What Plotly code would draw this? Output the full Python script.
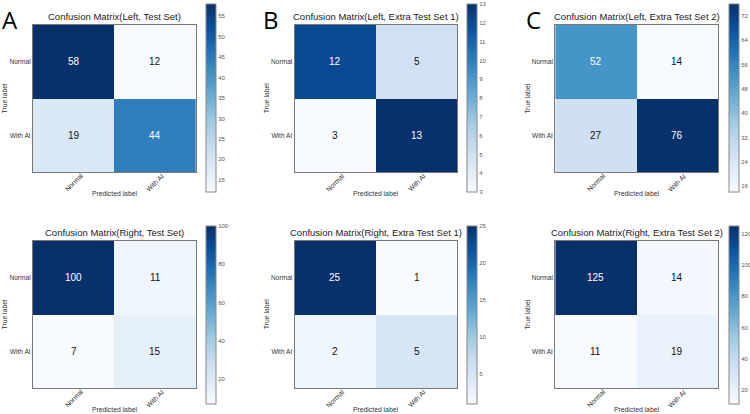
import plotly.graph_objects as go

W, H = 750, 414

classes = ["Normal", "With AI"]

titles = [
    "Confusion Matrix(Left, Test Set)",
    "Confusion Matrix(Left, Extra Test Set 1)",
    "Confusion Matrix(Left, Extra Test Set 2)",
    "Confusion Matrix(Right, Test Set)",
    "Confusion Matrix(Right, Extra Test Set 1)",
    "Confusion Matrix(Right, Extra Test Set 2)",
]

cm_left_test = [[58, 12], [19, 44]]
cm_left_extra1 = [[12, 5], [3, 13]]
cm_left_extra2 = [[52, 14], [27, 76]]
cm_right_test = [[100, 11], [7, 15]]
cm_right_extra1 = [[25, 1], [2, 5]]
cm_right_extra2 = [[125, 14], [11, 19]]

matrices = [cm_left_test, cm_left_extra1, cm_left_extra2,
            cm_right_test, cm_right_extra1, cm_right_extra2]

cbar_dtick = [5, 1, 8, 20, 5, 20]
panel_letters = ["A", "B", "C"]

# layout geometry in pixels
col_x = [(33, 196), (295, 458), (556, 719)]
cbar_x = [206, 467, 729]
row_y = [(25, 172), (241, 388)]
cbar_y = [(4, 192), (226, 404)]
letter_x = [10, 271, 534]

FONT = "Liberation Sans"

def px(x):
    return x / W

def py(y):
    return 1 - y / H

fig = go.Figure()
annotations = []
layout_axes = {}

for i, cm in enumerate(matrices):
    r, c = divmod(i, 3)
    n = i + 1
    xa = "x" if n == 1 else f"x{n}"
    ya = "y" if n == 1 else f"y{n}"
    zflat = [v for row in cm for v in row]
    zmin, zmax = min(zflat), max(zflat)
    x0, x1 = col_x[c]
    y0, y1 = row_y[r]
    cy0, cy1 = cbar_y[r]
    fig.add_trace(go.Heatmap(
        z=cm, x=classes, y=classes, xaxis=xa, yaxis=ya,
        colorscale="Blues", zmin=zmin, zmax=zmax,
        colorbar=dict(
            x=px(cbar_x[c]), xanchor="left", xpad=0,
            y=py((cy0 + cy1) / 2), yanchor="middle", ypad=0,
            len=(cy1 - cy0) / H, lenmode="fraction",
            thickness=10, outlinecolor="#888888", outlinewidth=1,
            tick0=0, dtick=cbar_dtick[i], ticks="",
            tickfont=dict(size=6, color="#555555", family=FONT),
        ),
        hoverinfo="skip",
    ))
    layout_axes["xaxis" if n == 1 else f"xaxis{n}"] = dict(
        domain=[px(x0), px(x1)], anchor=ya, showgrid=False, zeroline=False,
        showline=True, mirror=True, linecolor="#777777", linewidth=1,
        ticks="", showticklabels=False,
    )
    layout_axes["yaxis" if n == 1 else f"yaxis{n}"] = dict(
        domain=[py(y1), py(y0)], anchor=xa, showgrid=False, zeroline=False,
        showline=True, mirror=True, linecolor="#777777", linewidth=1,
        ticks="", autorange="reversed",
        tickfont=dict(size=6.6, color="#333333", family=FONT),
    )
    thresh = zmax / 2
    for ri, row in enumerate(cm):
        for ci, v in enumerate(row):
            annotations.append(dict(
                x=classes[ci], y=classes[ri], xref=xa, yref=ya,
                text=str(v), showarrow=False,
                font=dict(size=10, family=FONT,
                          color="white" if v > thresh else "#111111"),
            ))
    # rotated x tick labels, centred on each tick
    for ci, name in enumerate(classes):
        annotations.append(dict(
            x=name, y=py(y1 + 10.5), xref=xa, yref="paper",
            xanchor="center", yanchor="middle", text=name, textangle=-45,
            showarrow=False,
            font=dict(size=6.8, family=FONT, color="#333333"),
        ))
    # title
    annotations.append(dict(
        x=px((x0 + x1) / 2), y=py(y0 - 1), xref="paper", yref="paper",
        xanchor="center", yanchor="bottom", text=titles[i], showarrow=False,
        font=dict(size=9.5, family=FONT, color="#222222"),
    ))
    # axis labels
    annotations.append(dict(
        x=px((x0 + x1) / 2), y=py(y1 + 21), xref="paper", yref="paper",
        xanchor="center", yanchor="middle", text="Predicted label",
        showarrow=False,
        font=dict(size=6.8, family=FONT, color="#333333"),
    ))
    annotations.append(dict(
        x=px(x0 - 28), y=py((y0 + y1) / 2), xref="paper", yref="paper",
        xanchor="center", yanchor="middle", text="True label", textangle=-90,
        showarrow=False,
        font=dict(size=6.8, family=FONT, color="#333333"),
    ))

for c, letter in enumerate(panel_letters):
    annotations.append(dict(
        x=px(letter_x[c]), y=py(20), xref="paper", yref="paper",
        xanchor="center", yanchor="middle", text=letter, showarrow=False,
        font=dict(size=24, family="Open Sans", color="#000000"),
    ))

fig.update_layout(
    width=W, height=H, margin=dict(l=0, r=0, t=0, b=0),
    paper_bgcolor="white", plot_bgcolor="white",
    showlegend=False, annotations=annotations, **layout_axes,
)

fig.write_html("out.html")
